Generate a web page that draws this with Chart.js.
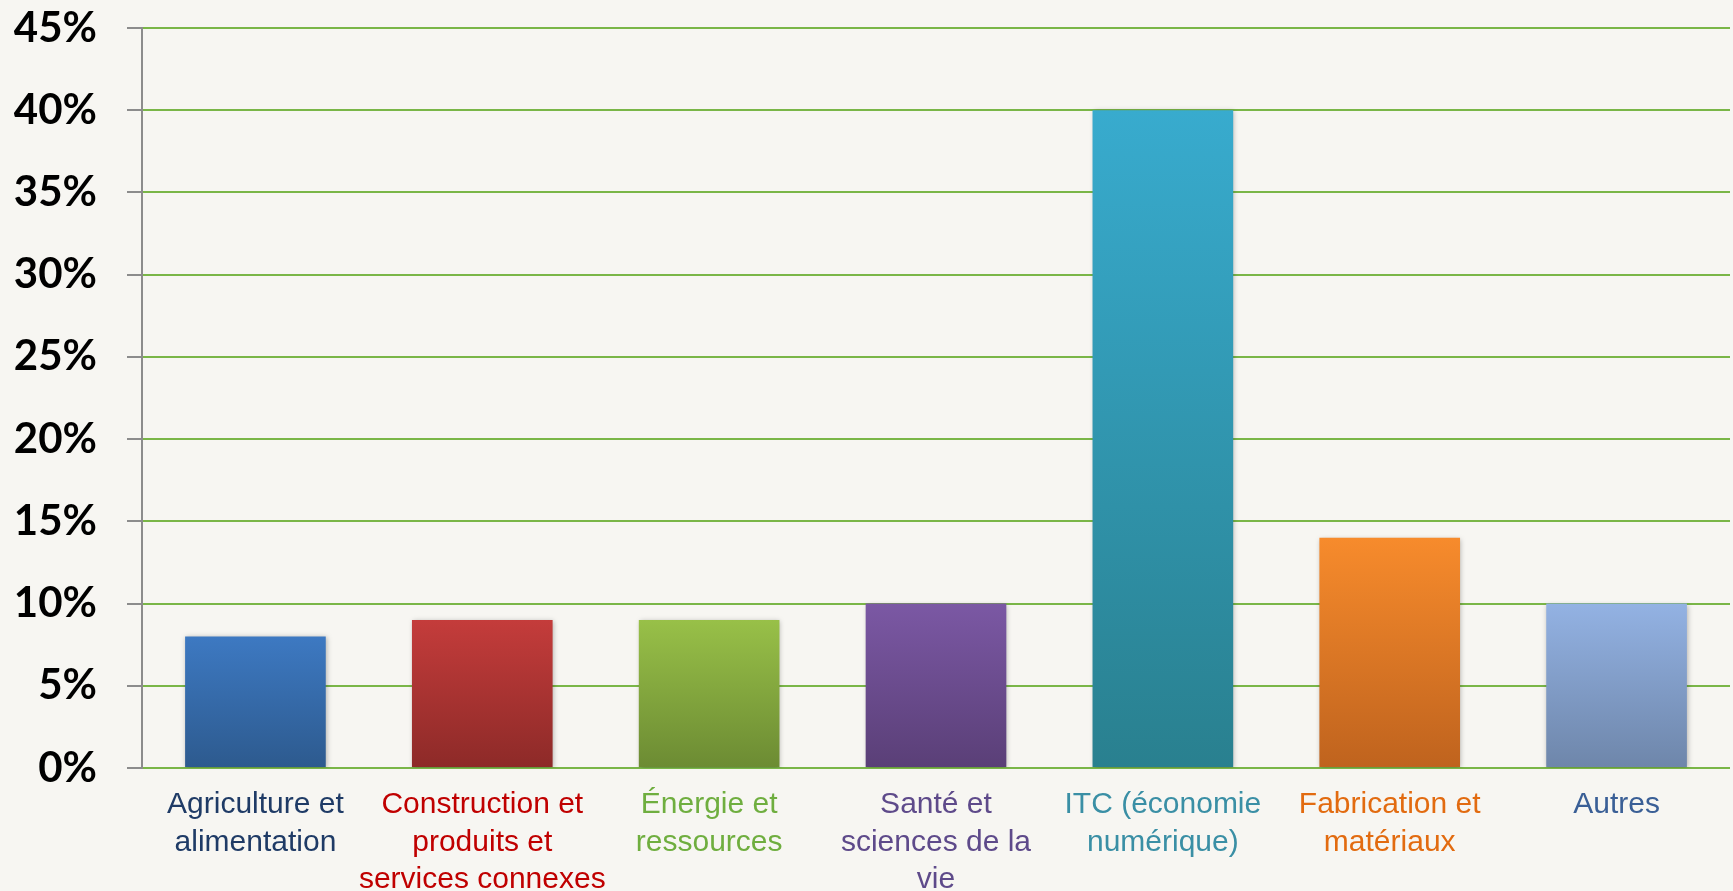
<!DOCTYPE html>
<html>
<head>
<meta charset="utf-8">
<script src="https://cdn.jsdelivr.net/npm/chart.js@4.4.1/dist/chart.umd.min.js"></script>
<style>
html,body{margin:0;padding:0;background:#F7F6F2;}
#wrap{width:1733px;height:891px;position:relative;}
</style>
</head>
<body>
<div id="wrap"><canvas id="c" width="1733" height="891"></canvas></div>
<script>
// Data
const categories = [
  ["Agriculture et", "alimentation"],
  ["Construction et", "produits et", "services connexes"],
  ["Énergie et", "ressources"],
  ["Santé et", "sciences de la", "vie"],
  ["ITC (économie", "numérique)"],
  ["Fabrication et", "matériaux"],
  ["Autres"]
];
const shares = [8, 9, 9, 10, 40, 14, 10];
const yTickMin = 0;
const yTickMax = 45;
const yTickStep = 5;

// Styles
const topColors = ["#3D79C2", "#C43C3B", "#98C048", "#7B58A4", "#38ABCE", "#F78B2C", "#93B2E3"];
const bottomColors = ["#2D5A8E", "#8D2A28", "#6C8B33", "#5A3F77", "#29808F", "#BF631E", "#6E86AA"];
const labelColors = ["#1F3B66", "#C00000", "#6FAE3F", "#5E4A8A", "#3A8FA5", "#E26B10", "#3A5F96"];

const shadowPlugin = {
  id: 'barShadow',
  beforeDatasetDraw(chart) {
    const ctx = chart.ctx;
    ctx.save();
    ctx.shadowColor = 'rgba(0,0,0,0.28)';
    ctx.shadowBlur = 5;
    ctx.shadowOffsetX = 1;
    ctx.shadowOffsetY = 1;
  },
  afterDatasetDraw(chart) {
    chart.ctx.restore();
  }
};

const bgPlugin = {
  id: 'bg',
  beforeDraw(chart) {
    const ctx = chart.ctx;
    ctx.save();
    ctx.fillStyle = '#F7F6F2';
    ctx.fillRect(0, 0, chart.width, chart.height);
    ctx.restore();
  }
};

function barGradient(context) {
  const i = context.dataIndex;
  const chart = context.chart;
  if (!chart.chartArea || !chart.scales.y) return topColors[i];
  const ys = chart.scales.y;
  const yTop = ys.getPixelForValue(shares[i]);
  const yBot = ys.getPixelForValue(0);
  if (!isFinite(yTop) || !isFinite(yBot) || yTop === yBot) return topColors[i];
  const g = chart.ctx.createLinearGradient(0, yTop, 0, yBot);
  g.addColorStop(0, topColors[i]);
  g.addColorStop(1, bottomColors[i]);
  return g;
}

new Chart(document.getElementById('c'), {
  type: 'bar',
  data: {
    labels: categories,
    datasets: [{
      data: shares,
      backgroundColor: barGradient,
      borderWidth: 0,
      barPercentage: 0.62,
      categoryPercentage: 1.0
    }]
  },
  options: {
    responsive: false,
    animation: false,
    devicePixelRatio: 1,
    layout: { padding: { top: 28, right: 3, left: 0, bottom: 0 } },
    plugins: {
      legend: { display: false },
      tooltip: { enabled: false }
    },
    scales: {
      x: {
        grid: { display: false, drawTicks: false },
        border: { display: false },
        ticks: {
          maxRotation: 0,
          autoSkip: false,
          padding: 18,
          color: (ctx) => labelColors[ctx.index],
          font: { family: "'Liberation Sans', Arial, sans-serif", size: 30, lineHeight: 1.25 }
        },
        afterFit(scale) { scale.height = 123; scale.paddingLeft = 0; scale.paddingRight = 0; }
      },
      y: {
        min: yTickMin,
        max: yTickMax,
        grid: {
          color: '#7AB648',
          lineWidth: 2,
          drawTicks: false,
          tickLength: 15
        },
        border: { display: true, color: '#8C8C8C', width: 2 },
        ticks: {
          stepSize: yTickStep,
          padding: 45,
          color: '#000000',
          font: { family: "Lato, 'Open Sans', sans-serif", size: 42, weight: 'bold' },
          callback: (v) => v + '%'
        },
        afterFit(scale) { scale.width = 142; scale.paddingTop = 0; scale.paddingBottom = 0; }
      }
    }
  },
  plugins: [bgPlugin, shadowPlugin, {
    id: 'yTickMarks',
    afterDraw(chart) {
      const ys = chart.scales.y;
      const ctx = chart.ctx;
      ctx.save();
      ctx.strokeStyle = '#8C8C8C';
      ctx.lineWidth = 2;
      ys.ticks.forEach((t) => {
        const y = Math.round(ys.getPixelForValue(t.value));
        ctx.beginPath();
        ctx.moveTo(ys.right - 15, y);
        ctx.lineTo(ys.right, y);
        ctx.stroke();
      });
      ctx.restore();
    }
  }]
});
</script>
</body>
</html>
